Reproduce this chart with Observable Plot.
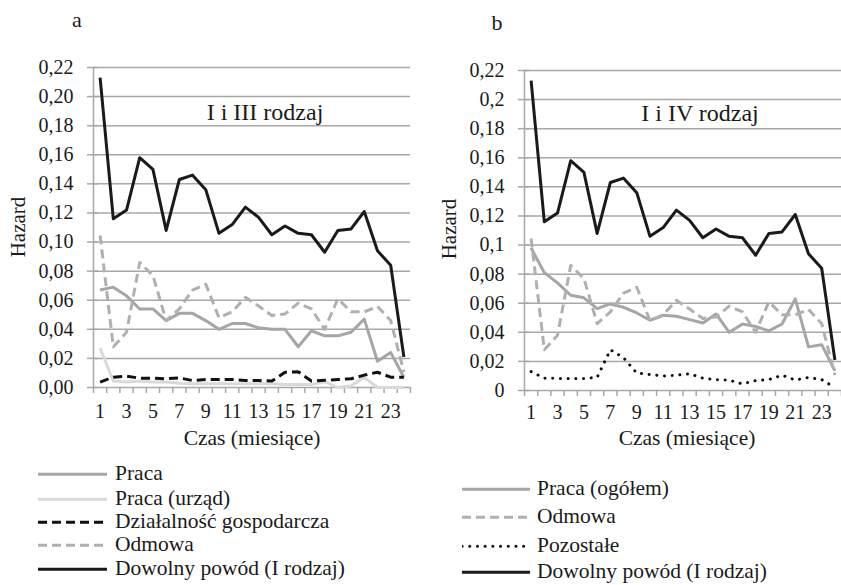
<!DOCTYPE html>
<html>
<head>
<meta charset="utf-8">
<script src="https://cdn.jsdelivr.net/npm/d3@7"></script>
<script src="https://cdn.jsdelivr.net/npm/@observablehq/plot@0.6"></script>
<style>
  html, body { margin: 0; padding: 0; background: #fff; }
  #root { position: relative; width: 841px; height: 585px; overflow: hidden; color: #1a1a1a;
          font-family: "Liberation Serif", "Times New Roman", serif; }
  .abs { position: absolute; white-space: nowrap; line-height: 1; }
  .panel { position: absolute; top: 0; }
  .leg { position: absolute; display: flex; align-items: center; font-size: 21.5px; line-height: 0.9; white-space: nowrap; }
</style>
</head>
<body>
<div id="root"></div>
<script>
// ---- data ----
const months = [1,2,3,4,5,6,7,8,9,10,11,12,13,14,15,16,17,18,19,20,21,22,23,24];
const monthLabels = [1,3,5,7,9,11,13,15,17,19,21,23];
const yTicks = [0,0.02,0.04,0.06,0.08,0.10,0.12,0.14,0.16,0.18,0.20,0.22];

const dowolny = [0.213,0.116,0.122,0.158,0.150,0.108,0.143,0.146,0.136,0.106,0.112,0.124,0.117,0.105,0.111,0.106,0.105,0.093,0.108,0.109,0.121,0.094,0.084,0.021];
const pracaA = [0.067,0.069,0.063,0.054,0.054,0.046,0.051,0.051,0.046,0.040,0.044,0.044,0.041,0.040,0.040,0.028,0.039,0.0355,0.0355,0.038,0.047,0.018,0.024,0.007];
const pracaUrzad = [0.027,0.0045,0.0037,0.0045,0.0037,0.0037,0.003,0.0025,0.0025,0.0025,0.0025,0.0025,0.0025,0.0025,0.002,0.002,0.002,0.004,0.000,0.001,0.007,0.000,0.000,0.000];
const dzialalnosc = [0.0037,0.0071,0.0078,0.0064,0.0064,0.006,0.0066,0.0048,0.0055,0.0055,0.0055,0.0048,0.0048,0.0044,0.0105,0.0108,0.0044,0.005,0.0055,0.006,0.0085,0.0105,0.0071,0.0071];
const odmowa = [0.1045,0.028,0.038,0.086,0.077,0.046,0.054,0.067,0.071,0.048,0.052,0.062,0.056,0.0495,0.0506,0.058,0.054,0.040,0.061,0.052,0.052,0.0557,0.046,0.0105];
const pracaOgolem = [0.098,0.081,0.074,0.0655,0.0637,0.0563,0.0595,0.0572,0.0533,0.0483,0.0517,0.051,0.0487,0.0464,0.0526,0.040,0.0457,0.044,0.041,0.0457,0.063,0.030,0.0315,0.0136];
const pozostale = [0.013,0.0085,0.0083,0.0083,0.0083,0.009,0.028,0.0225,0.012,0.011,0.010,0.0105,0.0115,0.0085,0.0074,0.0071,0.0045,0.0068,0.0075,0.0105,0.0072,0.009,0.0075,0.002];

// ---- styles ----
const FONT = "'Liberation Serif', 'Times New Roman', serif";
const GRID = "#a8a8a8";
const S = {
  praca:   {stroke: "#a6a6a6", strokeWidth: 3, dash: null},
  urzad:   {stroke: "#d9d9d9", strokeWidth: 3, dash: null},
  dzial:   {stroke: "#111111", strokeWidth: 3, dash: "9 5"},
  odmowa:  {stroke: "#b0b0b0", strokeWidth: 3, dash: "9 5"},
  pozost:  {stroke: "#111111", strokeWidth: 3, dash: "0.1 7.6", cap: "round"},
  dowolny: {stroke: "#1a1a1a", strokeWidth: 3, dash: null}
};

const seriesA = [
  {name: "Praca", values: pracaA, st: S.praca},
  {name: "Praca (urząd)", values: pracaUrzad, st: S.urzad},
  {name: "Działalność gospodarcza", values: dzialalnosc, st: S.dzial},
  {name: "Odmowa", values: odmowa, st: S.odmowa},
  {name: "Dowolny powód (I rodzaj)", values: dowolny, st: S.dowolny}
];
const seriesB = [
  {name: "Praca (ogółem)", values: pracaOgolem, st: S.praca},
  {name: "Odmowa", values: odmowa, st: S.odmowa},
  {name: "Pozostałe", values: pozostale, st: S.pozost},
  {name: "Dowolny powód (I rodzaj)", values: dowolny, st: S.dowolny}
];

const fmtA = d => d3.format(".2f")(d).replace(".", ",");
const fmtB = d => (d === 0 ? "0" : String(+d.toFixed(2))).replace(".", ",");

const root = document.getElementById("root");

function makePlot(series, fmt, marginLeft, marginTop, width, xPad) {
  const edges = d3.range(0.5, 25, 1);
  const marks = [
    Plot.ruleY(yTicks.filter(d => d > 0), {stroke: GRID, strokeWidth: 1.5}),
    Plot.ruleY([0], {stroke: GRID, strokeWidth: 1.5}),
    Plot.ruleX([0.5], {y1: 0, y2: 0.22, stroke: GRID, strokeWidth: 1.5}),
    Plot.axisY({ticks: yTicks, tickFormat: fmt, tickSize: 6, tickPadding: 14, stroke: GRID, strokeWidth: 1.5, fill: "#1a1a1a", fontSize: 20, label: null}),
    Plot.axisY({ticks: yTicks, tickFormat: () => "", tickSize: -5, stroke: GRID, strokeWidth: 1.5, label: null}),
    Plot.axisX({ticks: edges, tickFormat: () => "", tickSize: 6, stroke: GRID, strokeWidth: 1.5, label: null}),
    Plot.axisX({ticks: monthLabels, tickFormat: d => String(d), tickSize: 0, tickPadding: xPad, fill: "#1a1a1a", fontSize: 20, label: null})
  ];
  for (const s of series) {
    const data = months.map((m, i) => ({m, v: s.values[i]}));
    marks.push(Plot.line(data, {
      x: "m", y: "v", stroke: s.st.stroke, strokeWidth: s.st.strokeWidth,
      strokeDasharray: s.st.dash || undefined,
      strokeLinecap: s.st.cap || "butt", strokeLinejoin: "round"
    }));
  }
  return Plot.plot({
    width, height: marginTop + 320 + 60,
    marginLeft, marginRight: 0, marginTop, marginBottom: 60,
    style: {fontFamily: FONT, fontSize: "20px", background: "transparent", overflow: "visible"},
    x: {type: "linear", domain: [0.5, 24.5], axis: null, label: null},
    y: {domain: [0, 0.22], axis: null, label: null},
    marks
  });
}

function addPanel(left, series, fmt, marginLeft, marginTop, width, xPad) {
  const div = document.createElement("div");
  div.className = "panel";
  div.style.left = left + "px";
  div.appendChild(makePlot(series, fmt, marginLeft, marginTop, width, xPad));
  root.appendChild(div);
}
addPanel(0, seriesA, fmtA, 93, 67, 410, 16);
addPanel(420, seriesB, fmtB, 104, 70, 421, 14);

function addText(txt, x, y, size, opts = {}) {
  const d = document.createElement("div");
  d.className = "abs";
  d.textContent = txt;
  d.style.fontSize = size + "px";
  d.style.left = x + "px";
  d.style.top = y + "px";
  d.style.transform = opts.transform || "translate(-50%, -50%)";
  root.appendChild(d);
}
addText("a", 77, 20, 22);
addText("b", 497, 23, 22);
addText("I i III rodzaj", 265, 112, 24);
addText("I i IV rodzaj", 700, 113, 24);
addText("Hazard", 18, 227, 21, {transform: "translate(-50%, -50%) rotate(-90deg)"});
addText("Hazard", 449, 229, 21, {transform: "translate(-50%, -50%) rotate(-90deg)"});
addText("Czas (miesiące)", 252, 439, 21.5);
addText("Czas (miesiące)", 687, 439, 21.5);

function addLegend(series, x, ys, swW, gap) {
  series.forEach((s, i) => {
    const row = document.createElement("div");
    row.className = "leg";
    row.style.left = x + "px";
    row.style.top = ys[i] + "px";
    row.style.transform = "translateY(-50%)";
    const svgNS = "http://www.w3.org/2000/svg";
    const svg = document.createElementNS(svgNS, "svg");
    svg.setAttribute("width", swW); svg.setAttribute("height", 10);
    svg.style.marginRight = gap + "px";
    const ln = document.createElementNS(svgNS, "line");
    ln.setAttribute("x1", 0); ln.setAttribute("x2", swW);
    ln.setAttribute("y1", 5); ln.setAttribute("y2", 5);
    ln.setAttribute("stroke", s.st.stroke);
    ln.setAttribute("stroke-width", s.st.strokeWidth);
    if (s.st.dash) ln.setAttribute("stroke-dasharray", s.st.dash);
    if (s.st.cap) ln.setAttribute("stroke-linecap", s.st.cap);
    svg.appendChild(ln);
    row.appendChild(svg);
    const t = document.createElement("span");
    t.textContent = s.name;
    row.appendChild(t);
    root.appendChild(row);
  });
}
addLegend(seriesA, 38, [474, 499, 522, 545, 569], 69, 8);
addLegend(seriesB, 462, [489, 517, 546, 572], 68, 7);
</script>
</body>
</html>
